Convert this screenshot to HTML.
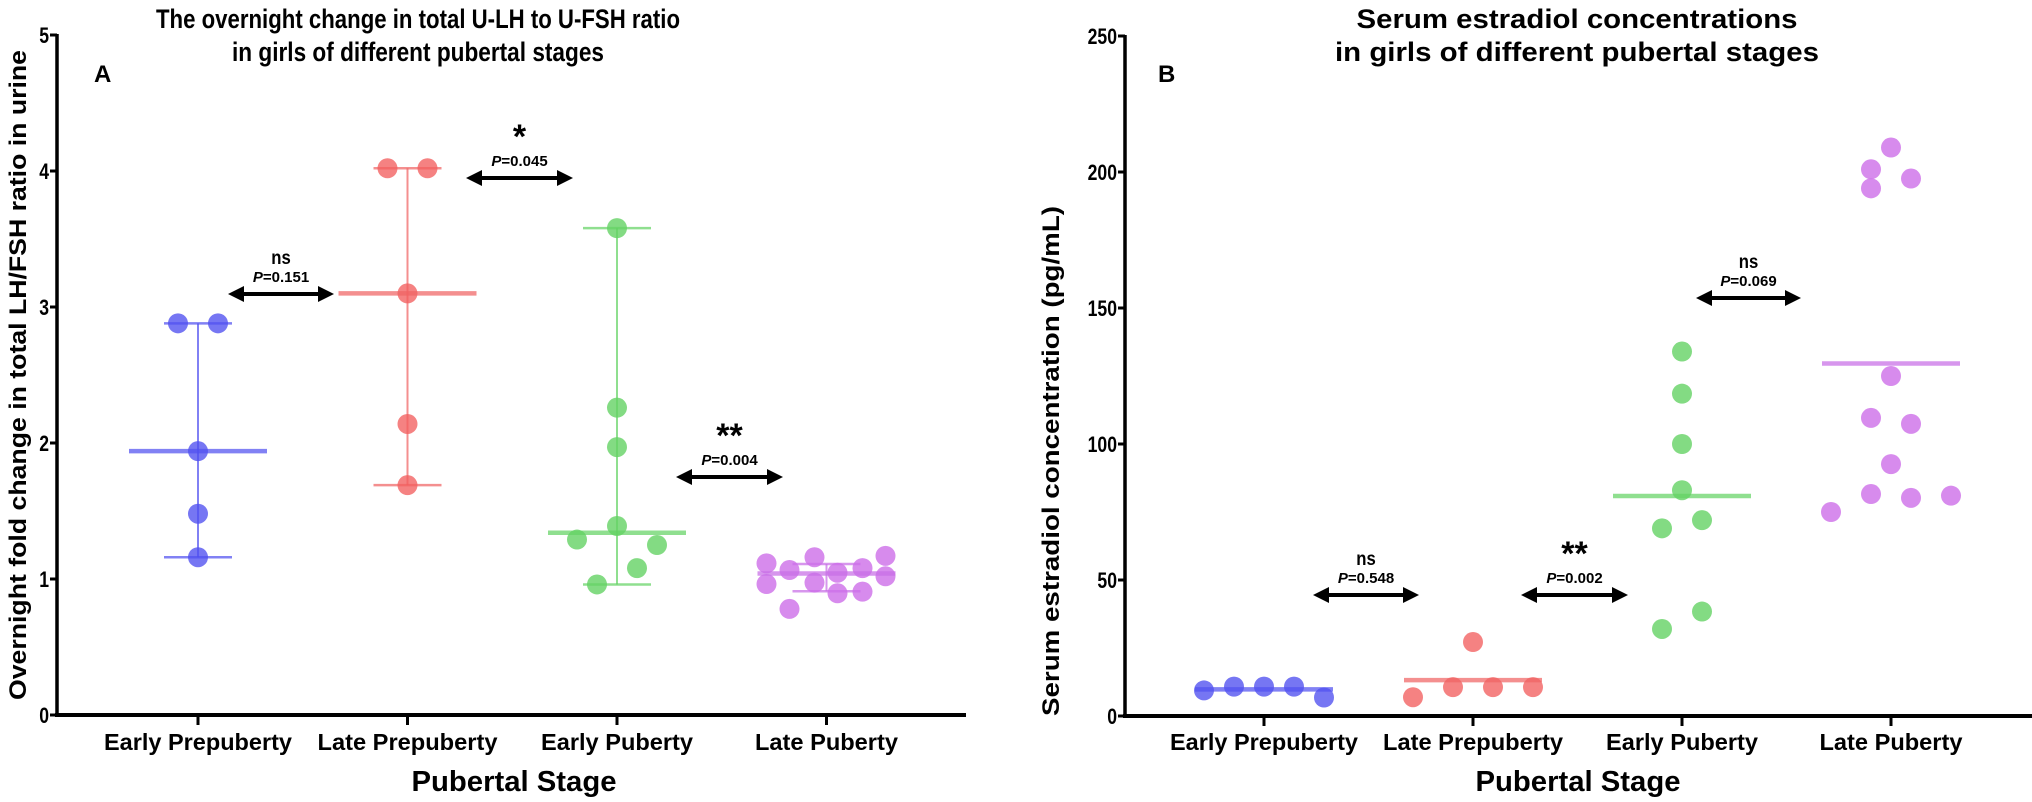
<!DOCTYPE html>
<html><head><meta charset="utf-8">
<style>
html,body{margin:0;padding:0;background:#fff;}
svg{display:block;font-family:"Liberation Sans",Arial,sans-serif;}
</style></head>
<body>
<svg id="fig" width="2032" height="802" viewBox="0 0 2032 802" xmlns="http://www.w3.org/2000/svg">
</svg>
<script>
// ---------- Data ----------
const categories = ["Early Prepuberty","Late Prepuberty","Early Puberty","Late Puberty"];
// Panel A: overnight fold change (value, jitter in 10px units)
const aVals = [
  [2.88,2.88,1.94,1.48,1.16],
  [4.02,4.02,3.10,2.14,1.69],
  [3.58,2.26,1.97,1.39,1.29,1.25,1.08,0.96],
  [1.115,1.16,1.17,1.066,1.046,1.08,1.02,0.963,0.973,0.895,0.907,0.78]
];
const aJit = [
  [-2,2,0,0,0],
  [-2,2,0,0,0],
  [0,0,0,0,-4,4,2,-2],
  [-6,-1.2,5.9,-3.7,1.1,3.6,5.9,-6,-1.2,1.1,3.6,-3.7]
];
const aMedian = [1.94,3.10,1.34,1.04];
const aLow = [1.16,1.69,0.96,0.91];
const aHigh = [2.88,4.02,3.58,1.11];
const aTicks = [0,1,2,3,4,5];
// Panel B: serum estradiol (pg/mL)
const bVals = [
  [9.4,10.8,10.8,10.8,6.8],
  [6.9,10.6,10.6,10.6,27.2],
  [134,118.5,100,83,69,72,32,38.4],
  [209,201,197.6,194,125,109.6,107.4,92.6,81.6,80.2,81,75]
];
const bJit = [
  [-6,-3,0,3,6],
  [-6,-2,2,6,0],
  [0,0,0,0,-2,2,-2,2],
  [0,-2,2,-2,0,-2,2,0,-2,2,6,-6]
];
const bMean = [9.8,13.2,80.9,129.6];
const bTicks = [0,50,100,150,200,250];
const catLabelWidths = [188,180,152,143];
const colors = ["rgba(80,80,240,0.78)","rgba(242,95,95,0.78)","rgba(100,210,100,0.8)","rgba(205,110,232,0.8)"];
const lineColors = ["rgba(80,80,240,0.72)","rgba(240,100,100,0.72)","rgba(100,210,100,0.72)","rgba(200,110,230,0.72)"];

const NS="http://www.w3.org/2000/svg";
const svg=document.getElementById('fig');
function mk(tag,attrs,parent){const e=document.createElementNS(NS,tag);for(const k in attrs)e.setAttribute(k,attrs[k]);(parent||svg).appendChild(e);return e;}
function txt(s,attrs,parent){const e=mk('text',attrs,parent);e.textContent=s;return e;}

function arrow(g,x1,x2,y){
  mk('line',{x1:x1+12,x2:x2-12,y1:y,y2:y,stroke:'#000','stroke-width':4},g);
  mk('polygon',{points:`${x1},${y} ${x1+16},${y-8} ${x1+16},${y+8}`,fill:'#000'},g);
  mk('polygon',{points:`${x2},${y} ${x2-16},${y-8} ${x2-16},${y+8}`,fill:'#000'},g);
}

function panel(cfg){
  const g=mk('g',{});
  
  
  const y=v=>cfg.y0-(v-cfg.vmin)/(cfg.vmax-cfg.vmin)*(cfg.y0-cfg.y1);
  const x=i=>cfg.cx0+i*cfg.step;
  const ax=mk('line',{x1:cfg.ax,x2:cfg.ax,y1:cfg.y1-1,y2:cfg.y0+2,stroke:'#000','stroke-width':3.5},g);
  
  
  const xa=mk('line',{x1:cfg.ax-2,x2:cfg.axEnd,y1:cfg.y0,y2:cfg.y0,stroke:'#000','stroke-width':4},g);
  
  
  cfg.ticks.forEach(t=>{
    mk('line',{x1:cfg.ax-7,x2:cfg.ax,y1:y(t),y2:y(t),stroke:'#000','stroke-width':3},g);
    const tl=txt(String(t),{x:cfg.ax-8,y:y(t)+8,'text-anchor':'end','font-size':22,'font-weight':'bold',transform:`translate(${cfg.ax-8},0) scale(0.8,1) translate(${-(cfg.ax-8)},0)`},g);
    
    
  });
  categories.forEach((c,i)=>{
    mk('line',{x1:x(i),x2:x(i),y1:cfg.y0,y2:cfg.y0+10,stroke:'#000','stroke-width':3},g);
    const cl=txt(c,{x:x(i),y:750,'text-anchor':'middle','font-size':23,'font-weight':'bold',textLength:catLabelWidths[i],lengthAdjust:'spacingAndGlyphs'},g);
    
    
  });
  cfg.vals.forEach((arr,i)=>{
    const sg=mk('g',{},g);
    
    
    if(cfg.low){
      mk('line',{x1:x(i),x2:x(i),y1:y(cfg.low[i]),y2:y(cfg.high[i]),stroke:lineColors[i],'stroke-width':2},sg);
      mk('line',{x1:x(i)-34,x2:x(i)+34,y1:y(cfg.low[i]),y2:y(cfg.low[i]),stroke:lineColors[i],'stroke-width':2.5},sg);
      mk('line',{x1:x(i)-34,x2:x(i)+34,y1:y(cfg.high[i]),y2:y(cfg.high[i]),stroke:lineColors[i],'stroke-width':2.5},sg);
    }
    arr.forEach((v,j)=>{
      const p=mk('circle',{cx:x(i)+cfg.jit[i][j]*10,cy:y(v),r:10,fill:colors[i]},sg);
      
      
    });
    const ml=mk('line',{x1:x(i)-69,x2:x(i)+69,y1:y(cfg.center[i]),y2:y(cfg.center[i]),stroke:lineColors[i],'stroke-width':4.5},sg);
    
    
  });
  cfg.ann.forEach(a=>{
    const ag=mk('g',{},g);
    
    
    arrow(ag,a.x1,a.x2,a.y);
    const cx=(a.x1+a.x2)/2;
    if(a.star){txt(a.label,{x:cx,y:a.y-30,'text-anchor':'middle','font-size':34,'font-weight':'bold'},ag);}
    else{txt(a.label,{x:cx,y:a.y-30,'text-anchor':'middle','font-size':19,'font-weight':'bold',transform:`translate(${cx},0) scale(0.88,1) translate(${-cx},0)`},ag);}
    const pt=txt('',{x:cx,y:a.y-12,'text-anchor':'middle','font-size':15,'font-weight':'bold'},ag);
    const ts=document.createElementNS(NS,'tspan');ts.setAttribute('font-style','italic');ts.textContent='P';pt.appendChild(ts);
    pt.appendChild(document.createTextNode('='+a.p));
  });
  const t1=txt(cfg.title[0],{x:cfg.tx,y:28,'text-anchor':'middle','font-size':27,'font-weight':'bold',textLength:cfg.tw[0],lengthAdjust:'spacingAndGlyphs'},g);
  
  
  const t2=txt(cfg.title[1],{x:cfg.tx,y:61,'text-anchor':'middle','font-size':27,'font-weight':'bold',textLength:cfg.tw[1],lengthAdjust:'spacingAndGlyphs'},g);
  
  
  const pl=txt(cfg.letter,{x:cfg.lx,y:82,'font-size':24,'font-weight':'bold'},g);
  
  
  const xt=txt('Pubertal Stage',{x:cfg.xtx,y:791,'text-anchor':'middle','font-size':29,'font-weight':'bold',textLength:205,lengthAdjust:'spacingAndGlyphs'},g);
  
  
  const yt=txt(cfg.ylabel,{x:0,y:0,'text-anchor':'middle','font-size':24,'font-weight':'bold',textLength:cfg.ylen,lengthAdjust:'spacingAndGlyphs',transform:`translate(${cfg.ylx},${cfg.yly}) rotate(-90)`},g);
  
  
}

panel({name:'panel-a',ax:57,axEnd:966,y0:715,y1:35,vmin:0,vmax:5,cx0:198,step:209.5,ticks:aTicks,
  vals:aVals,jit:aJit,center:aMedian,low:aLow,high:aHigh,
  ann:[{x1:228,x2:334,y:294,label:'ns',p:'0.151'},{x1:466,x2:573,y:178,label:'*',p:'0.045',star:true},{x1:676,x2:783,y:477,label:'**',p:'0.004',star:true}],
  title:['The overnight change in total U-LH to U-FSH ratio','in girls of different pubertal stages'],tx:418,tw:[524,372],
  letter:'A',lx:94,xtx:514,ylabel:'Overnight fold change in total LH/FSH ratio in urine',ylx:26,yly:375,ylen:650});

panel({name:'panel-b',ax:1125,axEnd:2032,y0:716,y1:36,vmin:0,vmax:250,cx0:1264,step:209,ticks:bTicks,
  vals:bVals,jit:bJit,center:bMean,low:null,
  ann:[{x1:1313,x2:1419,y:595,label:'ns',p:'0.548'},{x1:1521,x2:1628,y:595,label:'**',p:'0.002',star:true},{x1:1696,x2:1801,y:298,label:'ns',p:'0.069'}],
  title:['Serum estradiol concentrations','in girls of different pubertal stages'],tx:1577,tw:[441,484],
  letter:'B',lx:1158,xtx:1578,ylabel:'Serum estradiol concentration (pg/mL)',ylx:1059,yly:461,ylen:510});
</script>
</body></html>
